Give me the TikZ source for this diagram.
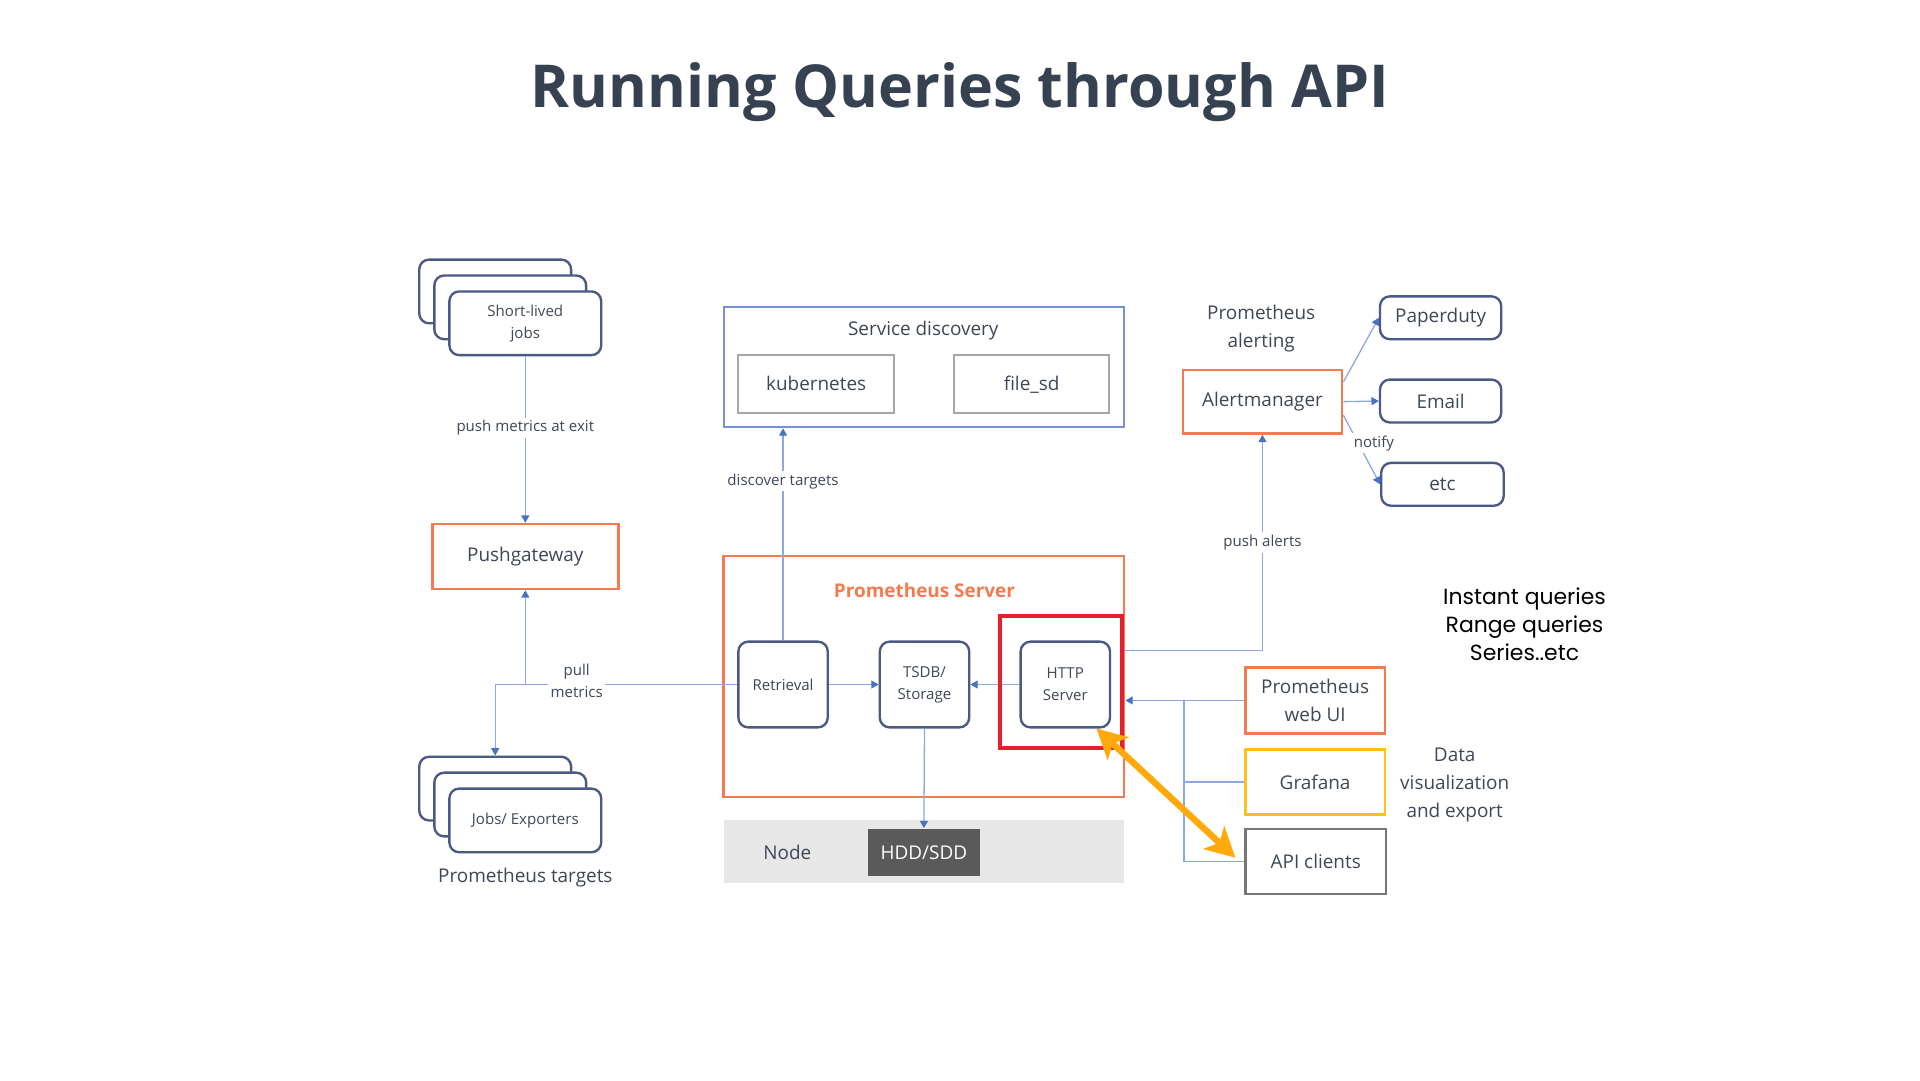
\documentclass[tikz,border=0pt]{standalone}
\usepackage{fontspec}
\setmainfont{Open Sans}
\newfontfamily\popfont{Poppins}
\usepackage{tikz}
\usetikzlibrary{positioning}
\usetikzlibrary{arrows.meta}
\usetikzlibrary{calc}
\definecolor{titlecol}{HTML}{364152}
\definecolor{txtcol}{HTML}{3F4756}
\definecolor{boxblue}{HTML}{4A5A85}
\definecolor{sdblue}{HTML}{7393D4}
\definecolor{linecol}{HTML}{8FA8DC}
\definecolor{tipcol}{HTML}{4472C4}
\definecolor{orangecol}{HTML}{F47B4F}
\definecolor{graycol}{HTML}{A6A6A6}
\definecolor{nodegray}{HTML}{E7E7E7}
\definecolor{hddgray}{HTML}{5A5A5A}
\definecolor{redcol}{HTML}{E5202E}
\definecolor{yellowcol}{HTML}{FFC21A}
\definecolor{apigray}{HTML}{777777}
\definecolor{qorange}{HTML}{FFA90A}
\newcommand{\diagsmall}{\fontsize{3.5pt}{5.1pt}\selectfont}
\newcommand{\diagnormal}{\fontsize{4.4pt}{6.5pt}\selectfont}

\begin{document}
\begin{tikzpicture}[
	rbox/.style={draw=boxblue, line width=0.55pt, rounded corners=0.08cm, fill=white, text=txtcol, font=\diagsmall, align=center, inner sep=0pt},
	obox/.style={draw=orangecol, line width=0.6pt, fill=white, text=txtcol, font=\diagnormal, align=center, inner sep=0pt},
	sbox/.style={draw=graycol, line width=0.45pt, fill=white, text=txtcol, font=\diagnormal, align=center, inner sep=0pt, text height=4.3pt, text depth=1.1pt},
	conn/.style={draw=linecol, line width=0.3pt},
	tip/.style={-{Triangle[length=0.6mm,width=0.65mm,color=tipcol]}},
	lbl/.style={fill=white, text=txtcol, font=\diagsmall, align=center, inner sep=0.6pt},
	qarrow/.style={draw=qorange, line width=1.5pt, {Stealth[length=0.24cm,width=0.25cm,inset=0.06cm]}-{Stealth[length=0.24cm,width=0.25cm,inset=0.06cm]}},
	]
	\fill[white] (0,0) rectangle (15.68,-8.82);
	\useasboundingbox (0,0) rectangle (15.68,-8.82);

	\node[font=\bfseries\fontsize{13.75pt}{17pt}\selectfont, text=titlecol, anchor=base] at (7.84,-0.88) (title) {Running Queries through API};

	\foreach \i in {2,1}
		\node[rbox, minimum width=1.24cm, minimum height=0.52cm] at ($(4.29,-2.64)+(-0.123*\i,0.13*\i)$) (slj\i) {};
	\node[rbox, minimum width=1.24cm, minimum height=0.52cm] at (4.29,-2.64) (slj) {Short-lived\\jobs};
	\node[obox, minimum width=1.52cm, minimum height=0.53cm] at (4.29,-4.545) (pgw) {Pushgateway};
	\foreach \i in {2,1}
		\node[rbox, minimum width=1.24cm, minimum height=0.52cm] at ($(4.29,-6.70)+(-0.123*\i,0.13*\i)$) (jobs\i) {};
	\node[rbox, minimum width=1.24cm, minimum height=0.52cm] at (4.29,-6.70) (jobs) {Jobs/ Exporters};
	\node[text=txtcol, font=\diagnormal] at (4.29,-7.17) (tgt) {Prometheus targets};

	\node[draw=sdblue, line width=0.45pt, minimum width=3.27cm, minimum height=0.98cm] at (7.545,-3.00) (sd) {};
	\node[text=txtcol, font=\diagnormal] at (7.54,-2.70) (sdtitle) {Service discovery};
	\node[sbox, minimum width=1.27cm, minimum height=0.47cm] at (6.665,-3.135) (k8s) {kubernetes};
	\node[sbox, minimum width=1.27cm, minimum height=0.47cm] at (8.425,-3.135) (fsd) {file\_sd};

	\node[obox, minimum width=3.27cm, minimum height=1.97cm] at (7.545,-5.525) (srv) {};
	\node[text=orangecol, font=\bfseries\fontsize{4.4pt}{5pt}\selectfont] at (7.55,-4.82) (srvtitle) {Prometheus Server};
	\node[rbox, minimum width=0.73cm, minimum height=0.70cm] at (6.395,-5.59) (ret) {Retrieval};
	\node[rbox, minimum width=0.73cm, minimum height=0.70cm] at (7.55,-5.59) (tsdb) {TSDB/\\Storage};
	\node[rbox, minimum width=0.73cm, minimum height=0.70cm] at (8.70,-5.59) (http) {HTTP\\Server};

	\node[fill=nodegray, minimum width=3.27cm, minimum height=0.51cm, inner sep=0pt] at (7.545,-6.955) (nodebar) {};
	\node[text=txtcol, font=\diagnormal] at (6.43,-6.96) (nodelbl) {Node};
	\node[fill=hddgray, text=white, font=\diagnormal, minimum width=0.91cm, minimum height=0.38cm, inner sep=0pt] at (7.545,-6.96) (hdd) {HDD/SDD};

	\node[text=txtcol, font=\diagnormal, align=center] at (10.30,-2.68) (alab) {Prometheus\\alerting};
	\node[obox, minimum width=1.30cm, minimum height=0.52cm] at (10.31,-3.28) (am) {Alertmanager};
	\node[rbox, font=\diagnormal, minimum width=0.99cm, minimum height=0.35cm] at (11.765,-2.595) (pd) {Paperduty};
	\node[rbox, font=\diagnormal, minimum width=0.99cm, minimum height=0.35cm] at (11.765,-3.275) (em) {Email};
	\node[rbox, font=\diagnormal, minimum width=1.00cm, minimum height=0.35cm] at (11.78,-3.955) (etc) {etc};

	\node[obox, minimum width=1.14cm, minimum height=0.54cm] at (10.74,-5.72) (webui) {Prometheus\\web UI};
	\node[obox, draw=yellowcol, minimum width=1.14cm, minimum height=0.53cm] at (10.74,-6.385) (graf) {Grafana};
	\node[obox, draw=apigray, minimum width=1.15cm, minimum height=0.53cm] at (10.745,-7.035) (api) {API clients};

	\node[font=\popfont\fontsize{5.1pt}{6.5pt}\selectfont, text=black, align=center] at (12.45,-5.10) (qtxt) {Instant queries\\Range queries\\Series..etc};
	\node[text=txtcol, font=\diagnormal, align=center] at (11.88,-6.41) (dtxt) {Data\\visualization\\and export};

	\draw[conn, tip] (slj.south) to node[lbl, pos=0.43] {push metrics at exit} (pgw.north);
	\draw[conn, tip] (ret.north) to node[lbl, pos=0.75] {discover targets} (ret.north |- sd.south);
	\draw[conn] (ret.west) -- (ret.west -| jobs2.north);
	\draw[conn, tip] (ret.west -| jobs2.north) to (jobs2.north);
	\draw[conn, tip] (ret.west -| pgw.south) to (pgw.south);
	\node[lbl] at (4.71,-5.56) (pull) {pull\\metrics};
	\draw[conn, tip] (ret) to (tsdb);
	\draw[conn, tip] (http) to (tsdb);
	\draw[conn, tip] (tsdb.south) to (hdd.north);
	\draw[conn, tip] ([yshift=0.215cm]srv.east) -| node[lbl, pos=0.75] {push alerts} (am.south);
	\draw[conn, tip] ([yshift=0.16cm]am.east) to (pd.west);
	\draw[conn, tip] (am.east) to (em.west);
	\draw[conn, tip] ([yshift=-0.11cm]am.east) to (etc.west);
	\node[lbl] at (11.22,-3.62) (notify) {notify};

	\coordinate (bus) at (9.67,-5.72);
	\draw[conn, tip] (webui.west) to (webui.west -| srv.east);
	\draw[conn] (graf.west) -- (graf.west -| bus) -- (bus);
	\draw[conn] (api.west) -- (api.west -| bus) -- (bus);

	\node[draw=redcol, line width=0.9pt, minimum width=0.99cm, minimum height=1.08cm, inner sep=0pt] at (8.665,-5.57) (hl) {};
	\draw[qarrow] ([xshift=-0.12cm]http.south east) to ([xshift=-0.07cm,yshift=0.03cm]api.west);
\end{tikzpicture}
\end{document}
